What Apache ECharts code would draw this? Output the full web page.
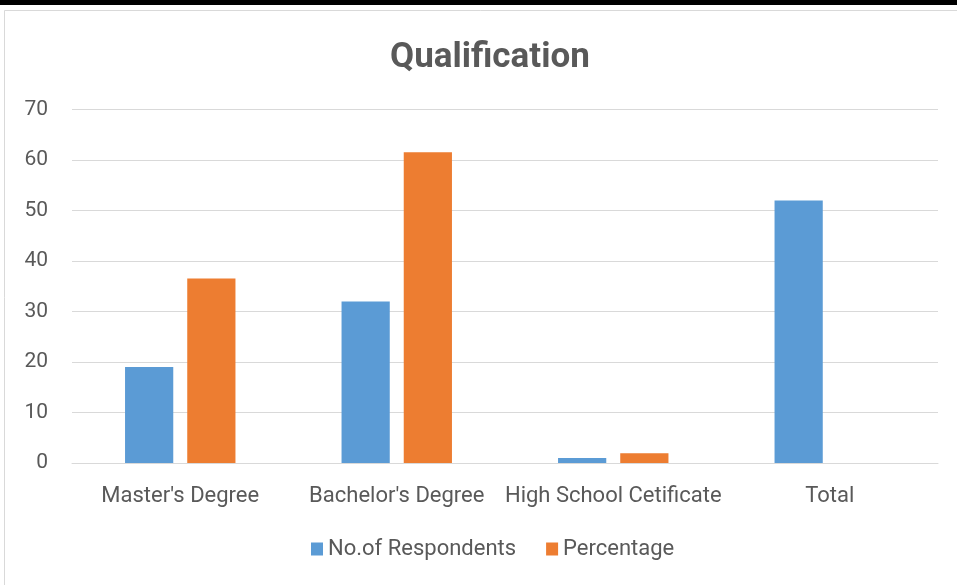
<!DOCTYPE html>
<html>
<head>
<meta charset="utf-8">
<script src="https://cdn.jsdelivr.net/npm/echarts@6/dist/echarts.min.js"></script>
<style>
  html, body { margin: 0; padding: 0; background: #fff; }
  #chart { width: 957px; height: 585px; }
</style>
</head>
<body>
<div id="chart"></div>
<script>
// chart data
var categories = ["Master's Degree", "Bachelor's Degree", "High School Cetificate", "Total"];
var respondents = [19, 32, 1, 52];
var percentage = [36.54, 61.54, 1.92, null];
var seriesNames = ["No.of Respondents", "Percentage"];

var FONT = "Roboto, 'Liberation Sans', sans-serif";
var TEXT = "#595959";

var chart = echarts.init(document.getElementById("chart"));
chart.setOption({
  animation: false,
  backgroundColor: "#fff",
  textStyle: { fontFamily: FONT },
  title: {
    text: "Qualification",
    left: 385,
    top: 36,
    textStyle: { fontFamily: FONT, fontSize: 35, fontWeight: "bold", color: TEXT }
  },
  graphic: [
    { type: "rect", shape: { x: 0, y: 0, width: 957, height: 5 }, style: { fill: "#000" } },
    { type: "line", shape: { x1: 4.5, y1: 10.5, x2: 957, y2: 10.5 }, style: { stroke: "#d9d9d9", lineWidth: 1 } },
    { type: "line", shape: { x1: 4.5, y1: 10.5, x2: 4.5, y2: 585 }, style: { stroke: "#d9d9d9", lineWidth: 1 } }
  ],
  legend: {
    data: seriesNames,
    bottom: 20,
    left: 306,
    itemWidth: 12,
    itemHeight: 13,
    itemGap: 30,
    icon: "rect",
    textStyle: { fontFamily: FONT, fontSize: 22, color: TEXT }
  },
  grid: {
    left: 72,
    right: 19,
    top: 109.5,
    bottom: 122
  },
  xAxis: {
    type: "category",
    data: categories,
    axisTick: { show: false },
    axisLine: { lineStyle: { color: "#d9d9d9", width: 1 } },
    axisLabel: { fontFamily: FONT, fontSize: 22, color: TEXT, margin: 22, interval: 0 }
  },
  yAxis: {
    type: "value",
    min: 0,
    max: 70,
    interval: 10,
    axisLine: { show: false },
    axisTick: { show: false },
    axisLabel: { fontFamily: FONT, fontSize: 21, color: TEXT, margin: 24 },
    splitLine: { lineStyle: { color: "#d9d9d9", width: 1 } }
  },
  series: [
    {
      name: seriesNames[0],
      type: "bar",
      data: respondents,
      barGap: "29%",
      barCategoryGap: "49%",
      itemStyle: { color: "#5b9bd5" }
    },
    {
      name: seriesNames[1],
      type: "bar",
      data: percentage,
      itemStyle: { color: "#ed7d31" }
    }
  ]
});
</script>
</body>
</html>
